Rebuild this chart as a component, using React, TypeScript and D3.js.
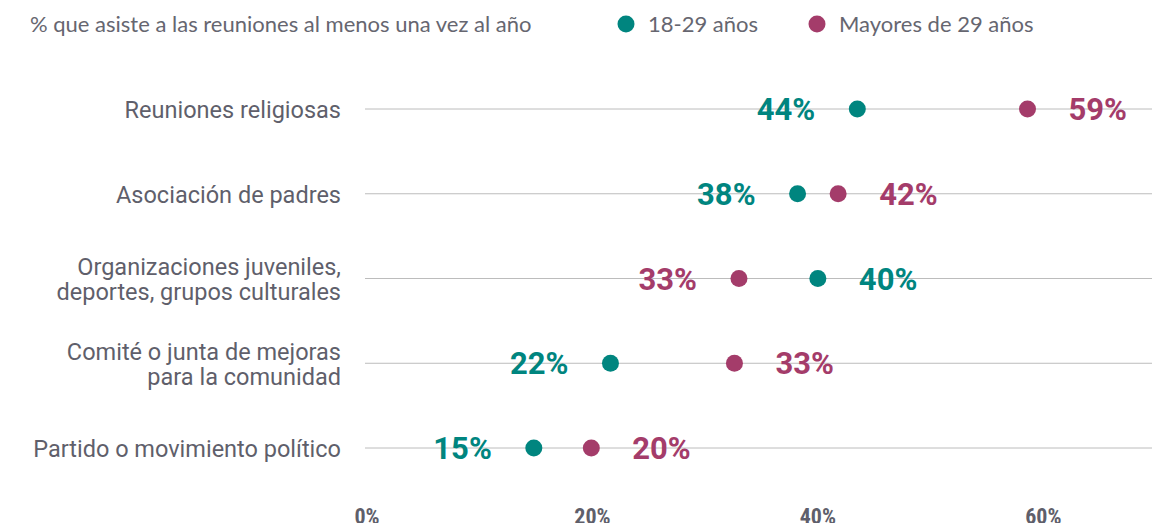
import * as d3 from "d3";
import { useEffect, useRef } from "react";

const categories = [
  "Reuniones religiosas",
  "Asociación de padres",
  "Organizaciones juveniles,\ndeportes, grupos culturales",
  "Comité o junta de mejoras\npara la comunidad",
  "Partido o movimiento político",
];
const young = [43.5, 38.2, 40.0, 21.6, 14.8];
const older = [58.6, 41.8, 33.0, 32.6, 19.9];
const tickValues = [0, 20, 40, 60];
const seriesNames = ["18-29 años", "Mayores de 29 años"];

const TEAL = "#00857f";
const MAGENTA = "#a43c6a";
const GREY = "#5f5f6b";

export default function App() {
  const svgRef = useRef<SVGSVGElement | null>(null);

  useEffect(() => {
    const svg = d3.select(svgRef.current);
    svg.selectAll("*").remove();
    const width = 1152;

    const x = d3.scaleLinear().domain([0, 70]).range([367, 1156]);
    const y = d3.scalePoint<string>().domain(categories).range([109, 448]);

    // header
    svg
      .append("text")
      .attr("x", 30)
      .attr("y", 32)
      .attr("font-family", "Lato, sans-serif")
      .attr("font-size", 22)
      .attr("fill", "#666670")
      .text("% que asiste a las reuniones al menos una vez al año");

    // legend
    const legend = [
      { name: seriesNames[0], color: TEAL, cx: 626 },
      { name: seriesNames[1], color: MAGENTA, cx: 817 },
    ];
    legend.forEach((l) => {
      svg.append("circle").attr("cx", l.cx).attr("cy", 24).attr("r", 8.5).attr("fill", l.color);
      svg
        .append("text")
        .attr("x", l.cx + 22)
        .attr("y", 32)
        .attr("font-family", "Lato, sans-serif")
        .attr("font-size", 22)
        .attr("fill", "#666670")
        .text(l.name);
    });

    // grid lines
    svg
      .append("g")
      .selectAll("line")
      .data(categories)
      .join("line")
      .attr("x1", 365)
      .attr("x2", width)
      .attr("y1", (d) => y(d)!)
      .attr("y2", (d) => y(d)!)
      .attr("stroke", "#bcbcbc")
      .attr("stroke-width", 1);

    // category labels
    categories.forEach((c) => {
      const lines = c.split("\n");
      const lh = 25;
      const t = svg
        .append("text")
        .attr("text-anchor", "end")
        .attr("font-family", "Roboto, sans-serif")
        .attr("font-size", 23.5)
        .attr("fill", GREY);
      lines.forEach((ln, i) => {
        t.append("tspan")
          .attr("x", 341)
          .attr("y", y(c)! + 9 + (i - (lines.length - 1) / 2) * lh)
          .text(ln);
      });
    });

    // dots + value labels
    categories.forEach((c, i) => {
      const pts = [
        { v: young[i], color: TEAL, other: older[i] },
        { v: older[i], color: MAGENTA, other: young[i] },
      ];
      pts.forEach((p) => {
        const cx = x(p.v);
        svg.append("circle").attr("cx", cx).attr("cy", y(c)!).attr("r", 8.5).attr("fill", p.color);
        const right = p.v >= p.other;
        svg
          .append("text")
          .attr("x", right ? cx + 41 : cx - 42)
          .attr("y", y(c)! + 11)
          .attr("text-anchor", right ? "start" : "end")
          .attr("font-family", "Roboto, sans-serif")
          .attr("font-weight", 700)
          .attr("font-size", 31)
          .attr("fill", p.color)
          .text(`${Math.round(p.v)}%`);
      });
    });

    // x axis tick labels
    svg
      .append("g")
      .selectAll("text")
      .data(tickValues)
      .join("text")
      .attr("x", (d) => x(d))
      .attr("y", 524)
      .attr("text-anchor", "middle")
      .attr("font-family", "'Liberation Sans Narrow', 'Roboto Condensed', sans-serif")
      .attr("font-weight", 700)
      .attr("font-size", 22)
      .attr("fill", GREY)
      .text((d) => `${d}%`);
  }, []);

  return (
    <svg
      ref={svgRef}
      width={1152}
      height={523}
      style={{ position: "absolute", left: 0, top: 0, background: "#fff" }}
    />
  );
}
